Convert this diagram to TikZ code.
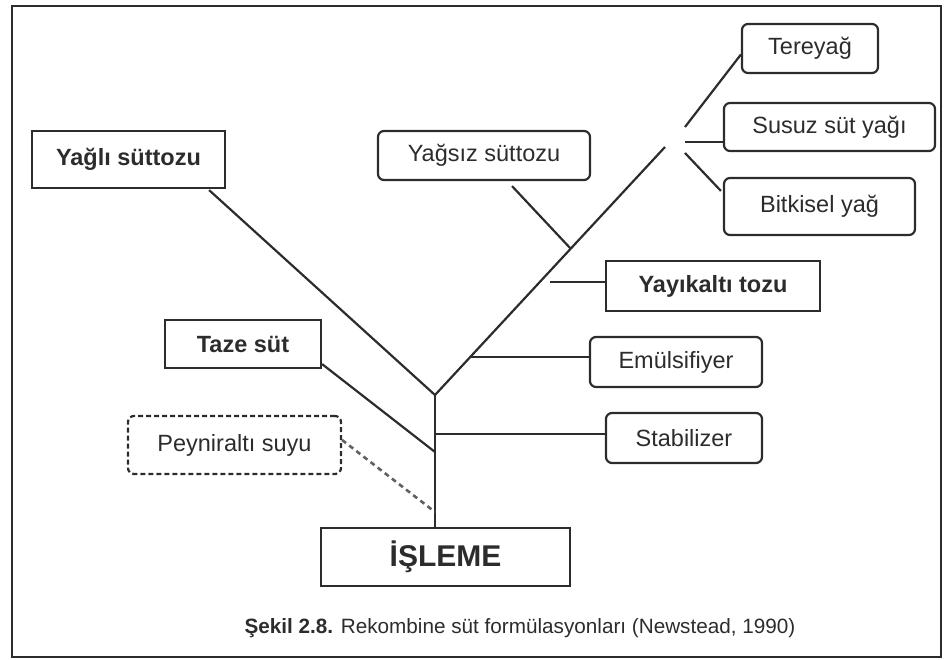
\documentclass[tikz,border=0pt]{standalone}
\usepackage{fontspec}
\setmainfont{Liberation Sans}
\usetikzlibrary{calc}
\definecolor{ink}{HTML}{2C2C2C}
\begin{document}
\begin{tikzpicture}[x=1pt,y=-1pt,
  every node/.style={text=ink},
  base/.style={draw=ink,line width=2.2pt,inner sep=0pt,align=center,
    font=\fontsize{23.5}{27}\selectfont},
  rbox/.style={base,rounded corners=6pt},
  sbox/.style={base,font=\fontsize{23.5}{27}\selectfont\bfseries},
  dbox/.style={rbox,dash pattern=on 5pt off 3pt},
  link/.style={draw=ink,line width=2.2pt},
  dlink/.style={draw=ink!75,line width=2.6pt,dash pattern=on 5pt off 4pt}]
\useasboundingbox (0,0) rectangle (948,660);
% frame
\draw[ink,line width=1.8pt] (12,6) rectangle (941,657);

% boxes
\node[rbox,minimum width=136pt,minimum height=49pt] (ter) at (810,48.5) {Tereyağ};
\node[rbox,minimum width=211pt,minimum height=48pt] (susuz) at (829.5,127) {Susuz süt yağı};
\node[rbox,minimum width=191pt,minimum height=57pt] (bitki) at (819.5,206.5) {Bitkisel yağ};
\node[sbox,minimum width=193pt,minimum height=57pt] (yagli) at (128.5,159.5) {Yağlı süttozu};
\node[rbox,minimum width=212pt,minimum height=49pt] (yagsiz) at (484,155.5) {Yağsız süttozu};
\node[sbox,minimum width=214pt,minimum height=50pt] (yayik) at (713,286) {Yayıkaltı tozu};
\node[sbox,minimum width=156pt,minimum height=48pt] (taze) at (243,344) {Taze süt};
\node[rbox,minimum width=172pt,minimum height=50pt] (emul) at (676,362) {Emülsifiyer};
\node[dbox,minimum width=213pt,minimum height=58pt] (peyn) at (234.5,445) {Peyniraltı suyu};
\node[rbox,minimum width=156pt,minimum height=50pt] (stab) at (684,438) {Stabilizer};
\node[sbox,minimum width=249pt,minimum height=58pt,
  font=\fontsize{30}{34}\selectfont\bfseries] (isleme) at (445.5,557) {İŞLEME};
\node[font=\fontsize{20.7}{24}\selectfont] (cap) at (520,628)
  {\textbf{Şekil 2.8.} Rekombine süt formülasyonları (Newstead, 1990)};

% branch points
\coordinate (J) at (435,395);
\coordinate (R) at (665,147);
\coordinate (F1) at (685,127);
\coordinate (F2) at (685,142);
\coordinate (F3) at (685,153);
\coordinate (yz) at ($(J)!0.59!(R)$);
\coordinate (yk) at (550,282);
\coordinate (em) at ($(J)!0.153!(R)$);
\coordinate (st) at (435,434);
\coordinate (tz) at (435,452);
\coordinate (pe) at (435,512);

% trunk and main branches
\draw[link] (J) -- (J |- isleme.north);
\draw[link] ($(yagli.south east)+(-17,1)$) -- (J);
\draw[link] (J) -- (R);

% inputs joining the branches
\draw[link] ($(yagsiz.south)+(28,5)$) -- (yz);
\draw[link] (yk) -- (yk -| yayik.west);
\draw[link] (em) -- (em -| emul.west);
\draw[link] (st) -- (st -| stab.west);
\draw[link] ($(taze.south east)+(0,-5)$) -- (tz);
\draw[dlink] ($(peyn.east)+(0,-5)$) -- (pe);

% fat sources
\draw[link] (F1) -- ($(ter.west)+(0,6)$);
\draw[link] (F2) -- (F2 -| susuz.west);
\draw[link] (F3) -- ($(bitki.north west)+(-2,14)$);
\end{tikzpicture}
\end{document}
